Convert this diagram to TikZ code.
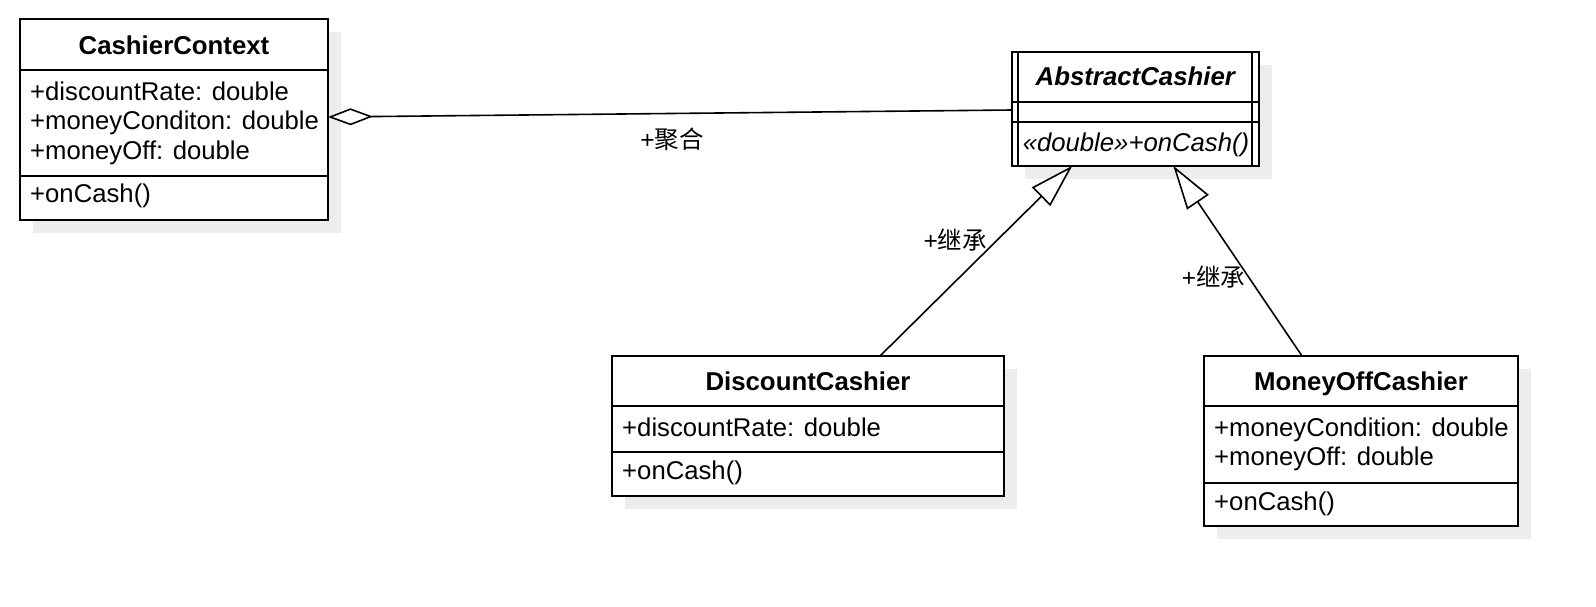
\documentclass[tikz,border=0pt]{standalone}
\usepackage{fontspec}
\setmainfont{Liberation Sans}
\newfontfamily\cjk{Noto Sans CJK SC}
\usetikzlibrary{arrows.meta}
\usetikzlibrary{shadows}

\begin{document}
\begin{tikzpicture}[x=1pt,y=-1pt,
	classbox/.style={draw, line width=2pt, fill=white, inner sep=0pt, outer sep=0pt,
		drop shadow={shadow xshift=13pt, shadow yshift=-13pt, fill=black!7, opacity=1}},
	divider/.style={line width=2pt},
	member/.style={anchor=base west, inner sep=0pt, font=\fontsize{25.7}{30}\selectfont},
	title/.style={anchor=base, inner sep=0pt, font=\fontsize{25.8}{30}\selectfont\bfseries},
	link/.style={line width=1.6pt},
	lbl/.style={inner sep=0pt, font=\fontsize{24.5}{28}\selectfont}]
	\useasboundingbox (0,0) rectangle (1596,606);
	% CashierContext
	\node[classbox, minimum width=308pt, minimum height=201pt] (ctx) at (174,119.5) {};
	\draw[divider] (ctx.west |- 0,70) -- (ctx.east |- 0,70);
	\draw[divider] (ctx.west |- 0,176) -- (ctx.east |- 0,176);
	\node[title] (ctxName) at (174,54) {CashierContext};
	\node[member] (ctxRate) at (30,100) {+discountRate: double};
	\node[member] (ctxCond) at (30,129.5) {+moneyConditon: double};
	\node[member] (ctxOff) at (30,159) {+moneyOff: double};
	\node[member] (ctxCash) at (30,202) {+onCash()};
	% AbstractCashier
	\node[classbox, minimum width=247pt, minimum height=114pt] (abs) at (1135.3,108.8) {};
	\draw[divider] (abs.west |- 0,101.7) -- (abs.east |- 0,101.7);
	\draw[divider] (abs.west |- 0,121.7) -- (abs.east |- 0,121.7);
	\draw[divider] ([xshift=6.5pt]abs.north west) -- ([xshift=6.5pt]abs.south west);
	\draw[divider] ([xshift=-6.5pt]abs.north east) -- ([xshift=-6.5pt]abs.south east);
	\node[title, font=\fontsize{25.8}{30}\selectfont\bfseries\itshape] (absName) at (1135.3,85) {AbstractCashier};
	\node[member, anchor=base] (absCash) at (1136,151.7) {\itshape «double»+onCash()};
	% DiscountCashier
	\node[classbox, minimum width=392pt, minimum height=140pt] (disc) at (808,426) {};
	\draw[divider] (disc.west |- 0,406) -- (disc.east |- 0,406);
	\draw[divider] (disc.west |- 0,452) -- (disc.east |- 0,452);
	\node[title] (discName) at (808,390.7) {DiscountCashier};
	\node[member] (discRate) at (622,436) {+discountRate: double};
	\node[member] (discCash) at (622,479) {+onCash()};
	% MoneyOffCashier
	\node[classbox, minimum width=314pt, minimum height=170pt] (moff) at (1361,441) {};
	\draw[divider] (moff.west |- 0,406) -- (moff.east |- 0,406);
	\draw[divider] (moff.west |- 0,483) -- (moff.east |- 0,483);
	\node[title] (moffName) at (1361,390.7) {MoneyOffCashier};
	\node[member] (moffCond) at (1214,436) {+moneyCondition: double};
	\node[member] (moffOff) at (1214,465) {+moneyOff: double};
	\node[member] (moffCash) at (1214,510.7) {+onCash()};
	% connectors
	\draw[link, -{Diamond[fill=white, length=45pt, width=17pt]}] ([yshift=-1.2pt]abs.west)
		-- node[lbl, pos=0.497, yshift=-26pt] (aggLbl) {+{\cjk 聚合}} ([yshift=2.5pt]ctx.east);
	\draw[link, -{Triangle[fill=white, length=44pt, width=26pt]}] ([xshift=72pt]disc.north)
		-- node[lbl, pos=0.61, xshift=-42pt] (inhLblA) {+{\cjk 继承}} ([xshift=-63pt]abs.south);
	\draw[link, -{Triangle[fill=white, length=44pt, width=26pt]}] ([xshift=-59pt]moff.north)
		-- node[lbl, pos=0.416, xshift=-35pt] (inhLblB) {+{\cjk 继承}} ([xshift=38pt]abs.south);
\end{tikzpicture}
\end{document}
